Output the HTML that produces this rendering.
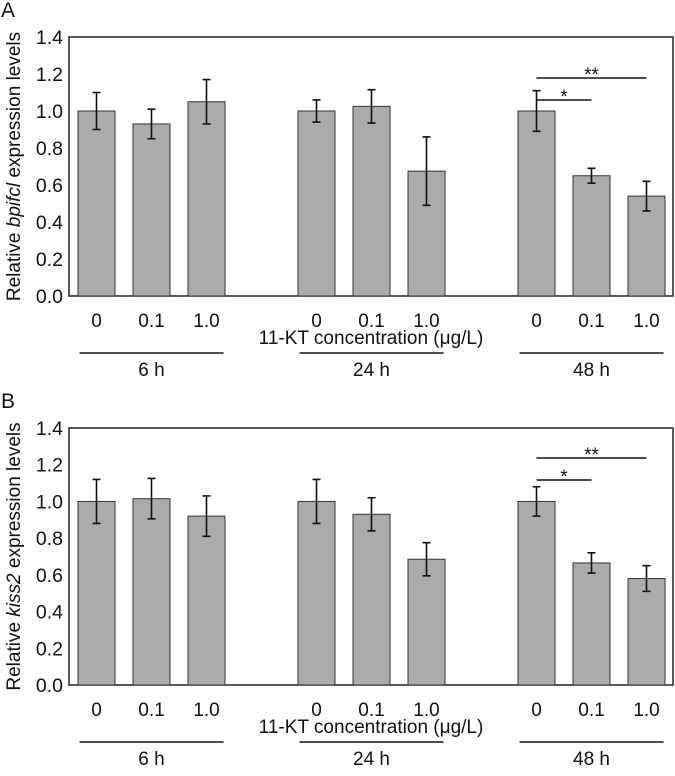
<!DOCTYPE html>
<html><head><meta charset="utf-8"><style>
body{margin:0;background:#fff;}
svg text{font-family:"Liberation Sans",Arial,sans-serif;fill:#111;}
</style></head><body>
<svg id="fig" width="675" height="771" xmlns="http://www.w3.org/2000/svg"></svg>
<script>
const categories = ["0","0.1","1.0","0","0.1","1.0","0","0.1","1.0"];
const groups = ["6 h","24 h","48 h"];
const yTicks = [0,0.2,0.4,0.6,0.8,1.0,1.2,1.4];
const valuesA = [1.0,0.93,1.05,1.0,1.025,0.675,1.0,0.65,0.54];
const errorsA = [0.10,0.08,0.12,0.06,0.09,0.185,0.11,0.04,0.08];
const valuesB = [1.0,1.015,0.92,1.0,0.93,0.685,1.0,0.665,0.58];
const errorsB = [0.12,0.11,0.11,0.12,0.09,0.09,0.08,0.055,0.07];
const NS="http://www.w3.org/2000/svg";
const svg=document.getElementById('fig');
function mk(t,a,p){const e=document.createElementNS(NS,t);for(const k in a)e.setAttribute(k,a[k]);(p||svg).appendChild(e);return e;}
const slot=[0,1,2,4,5,6,8,9,10];
function xC(i){return 96.5+55*slot[i];}
function panel(label,gene,top,bottom,vals,errs,sig){
  const g=mk('g',{});
  
  
  const y=v=>bottom-(bottom-top)*v/1.4;
  const L=mk('text',{x:1,y:top-20,'font-size':21},g);L.textContent=label;
  
  const box=mk('rect',{x:69,y:top,width:604,height:bottom-top,fill:'none',stroke:'#222','stroke-width':1.5},g);
  
  yTicks.forEach(t=>{const tx=mk('text',{x:63,y:y(t)+7,'font-size':19.5,'text-anchor':'end'},g);tx.textContent=t.toFixed(1);
    });
  const yt=mk('text',{transform:`translate(20,${(top+bottom)/2}) rotate(-90)`,'font-size':19,'text-anchor':'middle'},g);
  yt.innerHTML='Relative <tspan font-style="italic">'+gene+'</tspan> expression levels';
  
  vals.forEach((v,i)=>{const cx=xC(i);
    const b=mk('rect',{x:cx-18.5,y:y(v),width:37,height:bottom-y(v),fill:'#ababab',stroke:'#333','stroke-width':1},g);
    
    const e=mk('path',{d:`M${cx},${y(v+errs[i])}V${y(v-errs[i])}M${cx-4},${y(v+errs[i])}H${cx+4}M${cx-4},${y(v-errs[i])}H${cx+4}`,stroke:'#111','stroke-width':1.6,fill:'none'},g);
    
    const t=mk('text',{x:cx,y:bottom+31,'font-size':19,'text-anchor':'middle'},g);t.textContent=categories[i];
    });
  const xt=mk('text',{x:371,y:bottom+48,'font-size':19,'text-anchor':'middle'},g);xt.textContent='11-KT concentration (\u03bcg/L)';
  
  groups.forEach((gn,k)=>{const c=xC(k*3+1);
    const ln=mk('line',{x1:c-72,x2:c+72,y1:bottom+57,y2:bottom+57,stroke:'#111','stroke-width':1.5},g);
    
    const t=mk('text',{x:c,y:bottom+80,'font-size':19,'text-anchor':'middle'},g);t.textContent=gn;
    });
  sig.forEach(s=>{const x1=xC(s[0]),x2=xC(s[1]),yy=top+s[2];
    const ln=mk('line',{x1:x1,x2:x2,y1:yy,y2:yy,stroke:'#111','stroke-width':1.5},g);
    
    const t=mk('text',{x:(x1+x2)/2,y:yy+3,'font-size':19,'text-anchor':'middle'},g);t.textContent=s[3];
    });
}
panel('A','bpifcl',37,296,valuesA,errorsA,[[6,8,41,'**'],[6,7,63,'*']]);
panel('B','kiss2',428,685,valuesB,errorsB,[[6,8,30,'**'],[6,7,52,'*']]);
</script>
</body></html>
